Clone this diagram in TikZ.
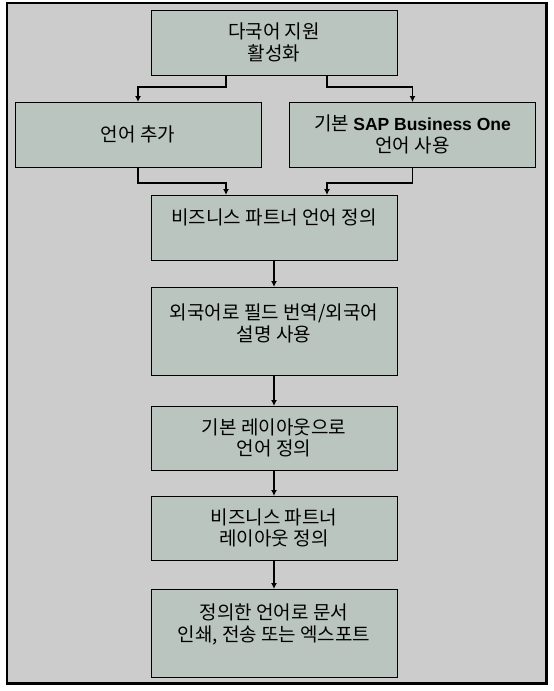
\documentclass[tikz,border=0pt]{standalone}
\usepackage{fontspec}
\setmainfont{Noto Sans CJK KR}
\newfontfamily\latin{Liberation Sans}
\usetikzlibrary{positioning,arrows.meta}
\definecolor{panel}{RGB}{204,204,204}
\definecolor{boxfill}{RGB}{186,197,192}
\begin{document}
\begin{tikzpicture}[x=1pt, y=1pt, font=\fontsize{19pt}{21.5pt}\selectfont,
            main/.style = {draw, line width=0.8pt, fill=boxfill, minimum width=246pt, minimum height=65pt, align=center, inner sep=0pt, outer sep=0pt},
            tall/.style = {minimum height=88pt},
            link/.style = {line width=1.6pt, -{Latex[length=6pt,width=6pt]}}]
            \useasboundingbox[fill=white] (0,0) rectangle (554,-691);
            \draw[line width=2.5pt, fill=panel] (7,-3) rectangle (546.5,-683.5);
            \node[main] (1) at (274,-42.5) {다국어 지원\\활성화};
            \node[main] (2) [below=27pt of 1, xshift=-136pt] {언어 추가};
            \node[main] (3) [below=27pt of 1, xshift=138.5pt] {기본 {\latin\bfseries\fontsize{17.5pt}{21.5pt}\selectfont SAP Business One}\\언어 사용};
            \node[main, text depth=21pt] (4) [below=120pt of 1] {비즈니스 파트너 언어 정의};
            \node[main, tall, text depth=17pt] (5) [below=27pt of 4] {외국어로 필드 번역/외국어\\설명 사용};
            \node[main, minimum height=64pt] (6) [below=31pt of 5] {기본 레이아웃으로\\언어 정의};
            \node[main, minimum height=64pt] (7) [below=26pt of 6] {비즈니스 파트너\\레이아웃 정의};
            \node[main, tall, text depth=21pt] (8) [below=29pt of 7] {정의한 언어로 문서\\인쇄, 전송 또는 엑스포트};
            \draw[link] ([xshift=-48pt]1.south) -- ++(0,-12pt) -| (2.north);
            \draw[link] ([xshift=53pt]1.south) -- ++(0,-12pt) -| (3.north);
            \draw[link] (2.south) -- ++(0,-16pt) -| ([xshift=-48pt]4.north);
            \draw[link] (3.south) -- ++(0,-16pt) -| ([xshift=53pt]4.north);
            \draw[link] (4) -- (5);
            \draw[link] (5) -- (6);
            \draw[link] (6) -- (7);
            \draw[link] (7) -- (8);
\end{tikzpicture}
\end{document}
